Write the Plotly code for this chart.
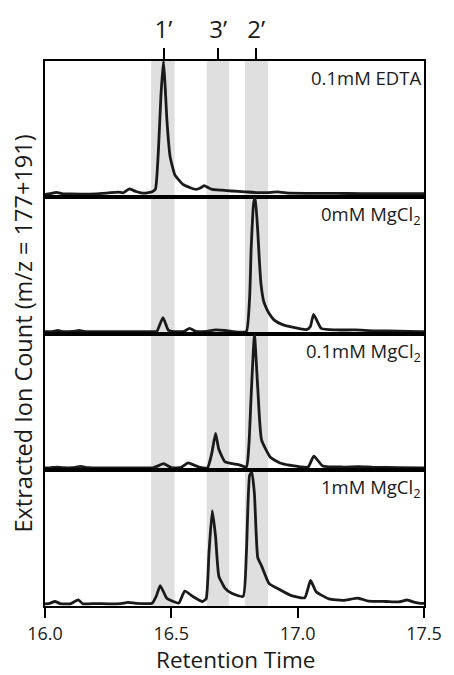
import plotly.graph_objects as go
from plotly.subplots import make_subplots

# ---- data (y in % of each panel's height) ----
panel_labels = ["0.1mM EDTA", "0mM MgCl<sub>2</sub>", "0.1mM MgCl<sub>2</sub>", "1mM MgCl<sub>2</sub>"]

edta_t = [16.00, 16.02, 16.045, 16.07, 16.10, 16.20, 16.25, 16.29, 16.31, 16.334, 16.36, 16.386, 16.41, 16.424,
          16.437, 16.449, 16.459, 16.469, 16.476, 16.482, 16.495, 16.514, 16.546, 16.575, 16.598, 16.615,
          16.630, 16.645, 16.662, 16.70, 16.739, 16.79, 16.84, 16.88, 16.92, 16.97, 17.05, 17.15, 17.25,
          17.35, 17.45, 17.50]
edta_y = [2.0, 2.6, 3.6, 2.5, 2.4, 2.5, 3.2, 3.8, 3.3, 6.2, 4.2, 3.0, 3.4, 4.0,
          6.0, 35.0, 75.0, 100.0, 80.0, 58.0, 30.0, 16.5, 9.4, 7.0, 5.8, 6.8,
          8.6, 7.2, 5.8, 5.2, 4.6, 4.0, 3.4, 3.4, 4.0, 3.0, 2.9, 2.8, 2.7,
          2.7, 2.6, 2.6]

mg0_t = [16.00, 16.03, 16.051, 16.07, 16.11, 16.135, 16.16, 16.25, 16.35, 16.43, 16.443, 16.467, 16.488,
         16.51, 16.55, 16.572, 16.598, 16.64, 16.675, 16.713, 16.765, 16.797, 16.810, 16.816, 16.826,
         16.832, 16.842, 16.848, 16.855, 16.865, 16.874, 16.887, 16.906, 16.94, 16.97, 17.035, 17.05,
         17.063, 17.093, 17.15, 17.228, 17.30, 17.40, 17.485, 17.50]
mg0_y = [1.4, 1.4, 2.2, 1.4, 1.5, 2.2, 1.4, 1.4, 1.4, 1.4, 1.6, 11.7, 2.5,
         1.4, 1.6, 3.8, 1.5, 1.6, 2.6, 2.2, 1.0, 1.5, 27.0, 62.6, 96.0,
         100.0, 75.0, 55.0, 36.0, 24.0, 19.4, 14.6, 10.0, 6.5, 5.0, 2.9, 5.0,
         14.1, 3.8, 2.6, 2.6, 2.0, 1.8, 1.4, 1.4]

mg01_t = [16.00, 16.02, 16.045, 16.07, 16.11, 16.141, 16.17, 16.30, 16.43, 16.45, 16.469, 16.501, 16.54,
          16.566, 16.59, 16.61, 16.643, 16.660, 16.675, 16.688, 16.713, 16.765, 16.797, 16.807, 16.816,
          16.829, 16.842, 16.857, 16.893, 16.93, 16.97, 17.041, 17.064, 17.099, 17.18, 17.24, 17.30,
          17.40, 17.50]
mg01_y = [1.4, 1.4, 2.0, 1.5, 1.5, 2.5, 1.5, 1.4, 1.6, 3.0, 4.5, 1.5, 1.8,
          5.0, 3.4, 2.0, 1.4, 12.0, 26.7, 15.0, 5.7, 3.8, 2.0, 18.0, 55.0,
          99.0, 60.0, 22.0, 9.0, 5.0, 3.3, 2.0, 10.0, 2.8, 2.0, 2.3, 1.8,
          1.6, 1.4]

mg1_t = [16.00, 16.019, 16.039, 16.06, 16.10, 16.132, 16.15, 16.20, 16.25, 16.30, 16.328, 16.36, 16.424,
         16.440, 16.456, 16.482, 16.508, 16.53, 16.553, 16.585, 16.624, 16.638, 16.649, 16.662, 16.675,
         16.688, 16.713, 16.739, 16.784, 16.797, 16.810, 16.819, 16.829, 16.842, 16.857, 16.887, 16.919,
         16.97, 17.028, 17.051, 17.073, 17.124, 17.18, 17.24, 17.28, 17.35, 17.40, 17.433, 17.46, 17.485,
         17.50]
mg1_y = [1.6, 2.0, 3.3, 1.8, 1.6, 4.5, 1.6, 1.8, 1.6, 1.8, 2.6, 2.0, 2.0,
         7.0, 15.0, 5.7, 3.3, 2.2, 11.0, 7.0, 3.3, 5.5, 39.0, 70.0, 51.0,
         22.0, 13.0, 9.3, 7.0, 39.0, 96.0, 98.0, 82.0, 35.5, 29.5, 16.4, 13.0,
         8.0, 6.0, 18.8, 10.5, 5.2, 4.2, 5.7, 3.6, 3.3, 3.0, 4.4, 2.8, 2.0,
         2.0]

series_t = [edta_t, mg0_t, mg01_t, mg1_t]
series_y = [edta_y, mg0_y, mg01_y, mg1_y]

band_starts = [16.420, 16.640, 16.791]
band_ends = [16.513, 16.729, 16.883]

prime_pos = [16.469, 16.685, 16.836]
prime_labels = ["1\u2019", "3\u2019", "2\u2019"]

x_ticks = [16.0, 16.5, 17.0, 17.5]
x_ticklabels = ["16.0", "16.5", "17.0", "17.5"]

FONT = "Open Sans"
INK = "#1a1a1a"

fig = make_subplots(rows=4, cols=1, shared_xaxes=True, vertical_spacing=0)

for i in range(4):
    fig.add_trace(go.Scatter(x=series_t[i], y=series_y[i], mode="lines",
                             line=dict(color=INK, width=2.8, shape="spline", smoothing=0.45),
                             hoverinfo="skip", showlegend=False), row=i + 1, col=1)
    fig.update_yaxes(range=[0, 100], showticklabels=False, ticks="", showgrid=False, zeroline=False,
                     showline=True, mirror=True, linecolor="black", linewidth=2.2, row=i + 1, col=1)
    fig.update_xaxes(range=[16.0, 17.5], showgrid=False, zeroline=False, showline=True, mirror=True,
                     linecolor="black", linewidth=2.2, row=i + 1, col=1)
    yref = "y domain" if i == 0 else f"y{i+1} domain"
    xref = "x domain" if i == 0 else f"x{i+1} domain"
    fig.add_annotation(text=panel_labels[i], xref=xref, yref=yref, x=1, y=1, xanchor="right",
                       yanchor="top", xshift=-1, yshift=-2, showarrow=False,
                       font=dict(family=FONT, size=18.5, color=INK))

# top axis with peak labels
fig.update_xaxes(side="top", tickmode="array", tickvals=prime_pos, ticktext=prime_labels,
                 showticklabels=True, ticks="outside", ticklen=11, tickwidth=2.2, tickcolor="black",
                 tickfont=dict(family=FONT, size=24, color=INK), row=1, col=1)
for r in (2, 3):
    fig.update_xaxes(showticklabels=False, ticks="", row=r, col=1)
fig.update_xaxes(tickmode="array", tickvals=x_ticks, ticktext=x_ticklabels, showticklabels=True,
                 ticks="outside", ticklen=10, tickwidth=2.2, tickcolor="black",
                 tickfont=dict(family=FONT, size=18, color=INK),
                 row=4, col=1)

for s, e in zip(band_starts, band_ends):
    fig.add_shape(type="rect", xref="x", yref="paper", x0=s, x1=e, y0=0, y1=1,
                  fillcolor="#dedfde", line=dict(width=0), layer="below")

fig.add_annotation(text="Retention Time", xref="paper", yref="paper", x=0.5, y=0, xshift=1,
                   yshift=-53, xanchor="center", yanchor="middle", showarrow=False,
                   font=dict(family=FONT, size=22.5, color=INK))

fig.add_annotation(text="Extracted Ion Count (m/z = 177+191)", xref="paper", yref="paper",
                   x=0, y=0.5, xanchor="center", yanchor="middle", xshift=-23, textangle=-90,
                   showarrow=False, font=dict(family=FONT, size=23.5, color=INK))

fig.update_layout(width=454, height=675, margin=dict(l=45, r=20, t=49, b=69),
                  plot_bgcolor="white", paper_bgcolor="white")

fig.write_html("out.html", config={"displayModeBar": False},
               post_script="document.body.style.margin='0';document.body.style.overflow='hidden';")
